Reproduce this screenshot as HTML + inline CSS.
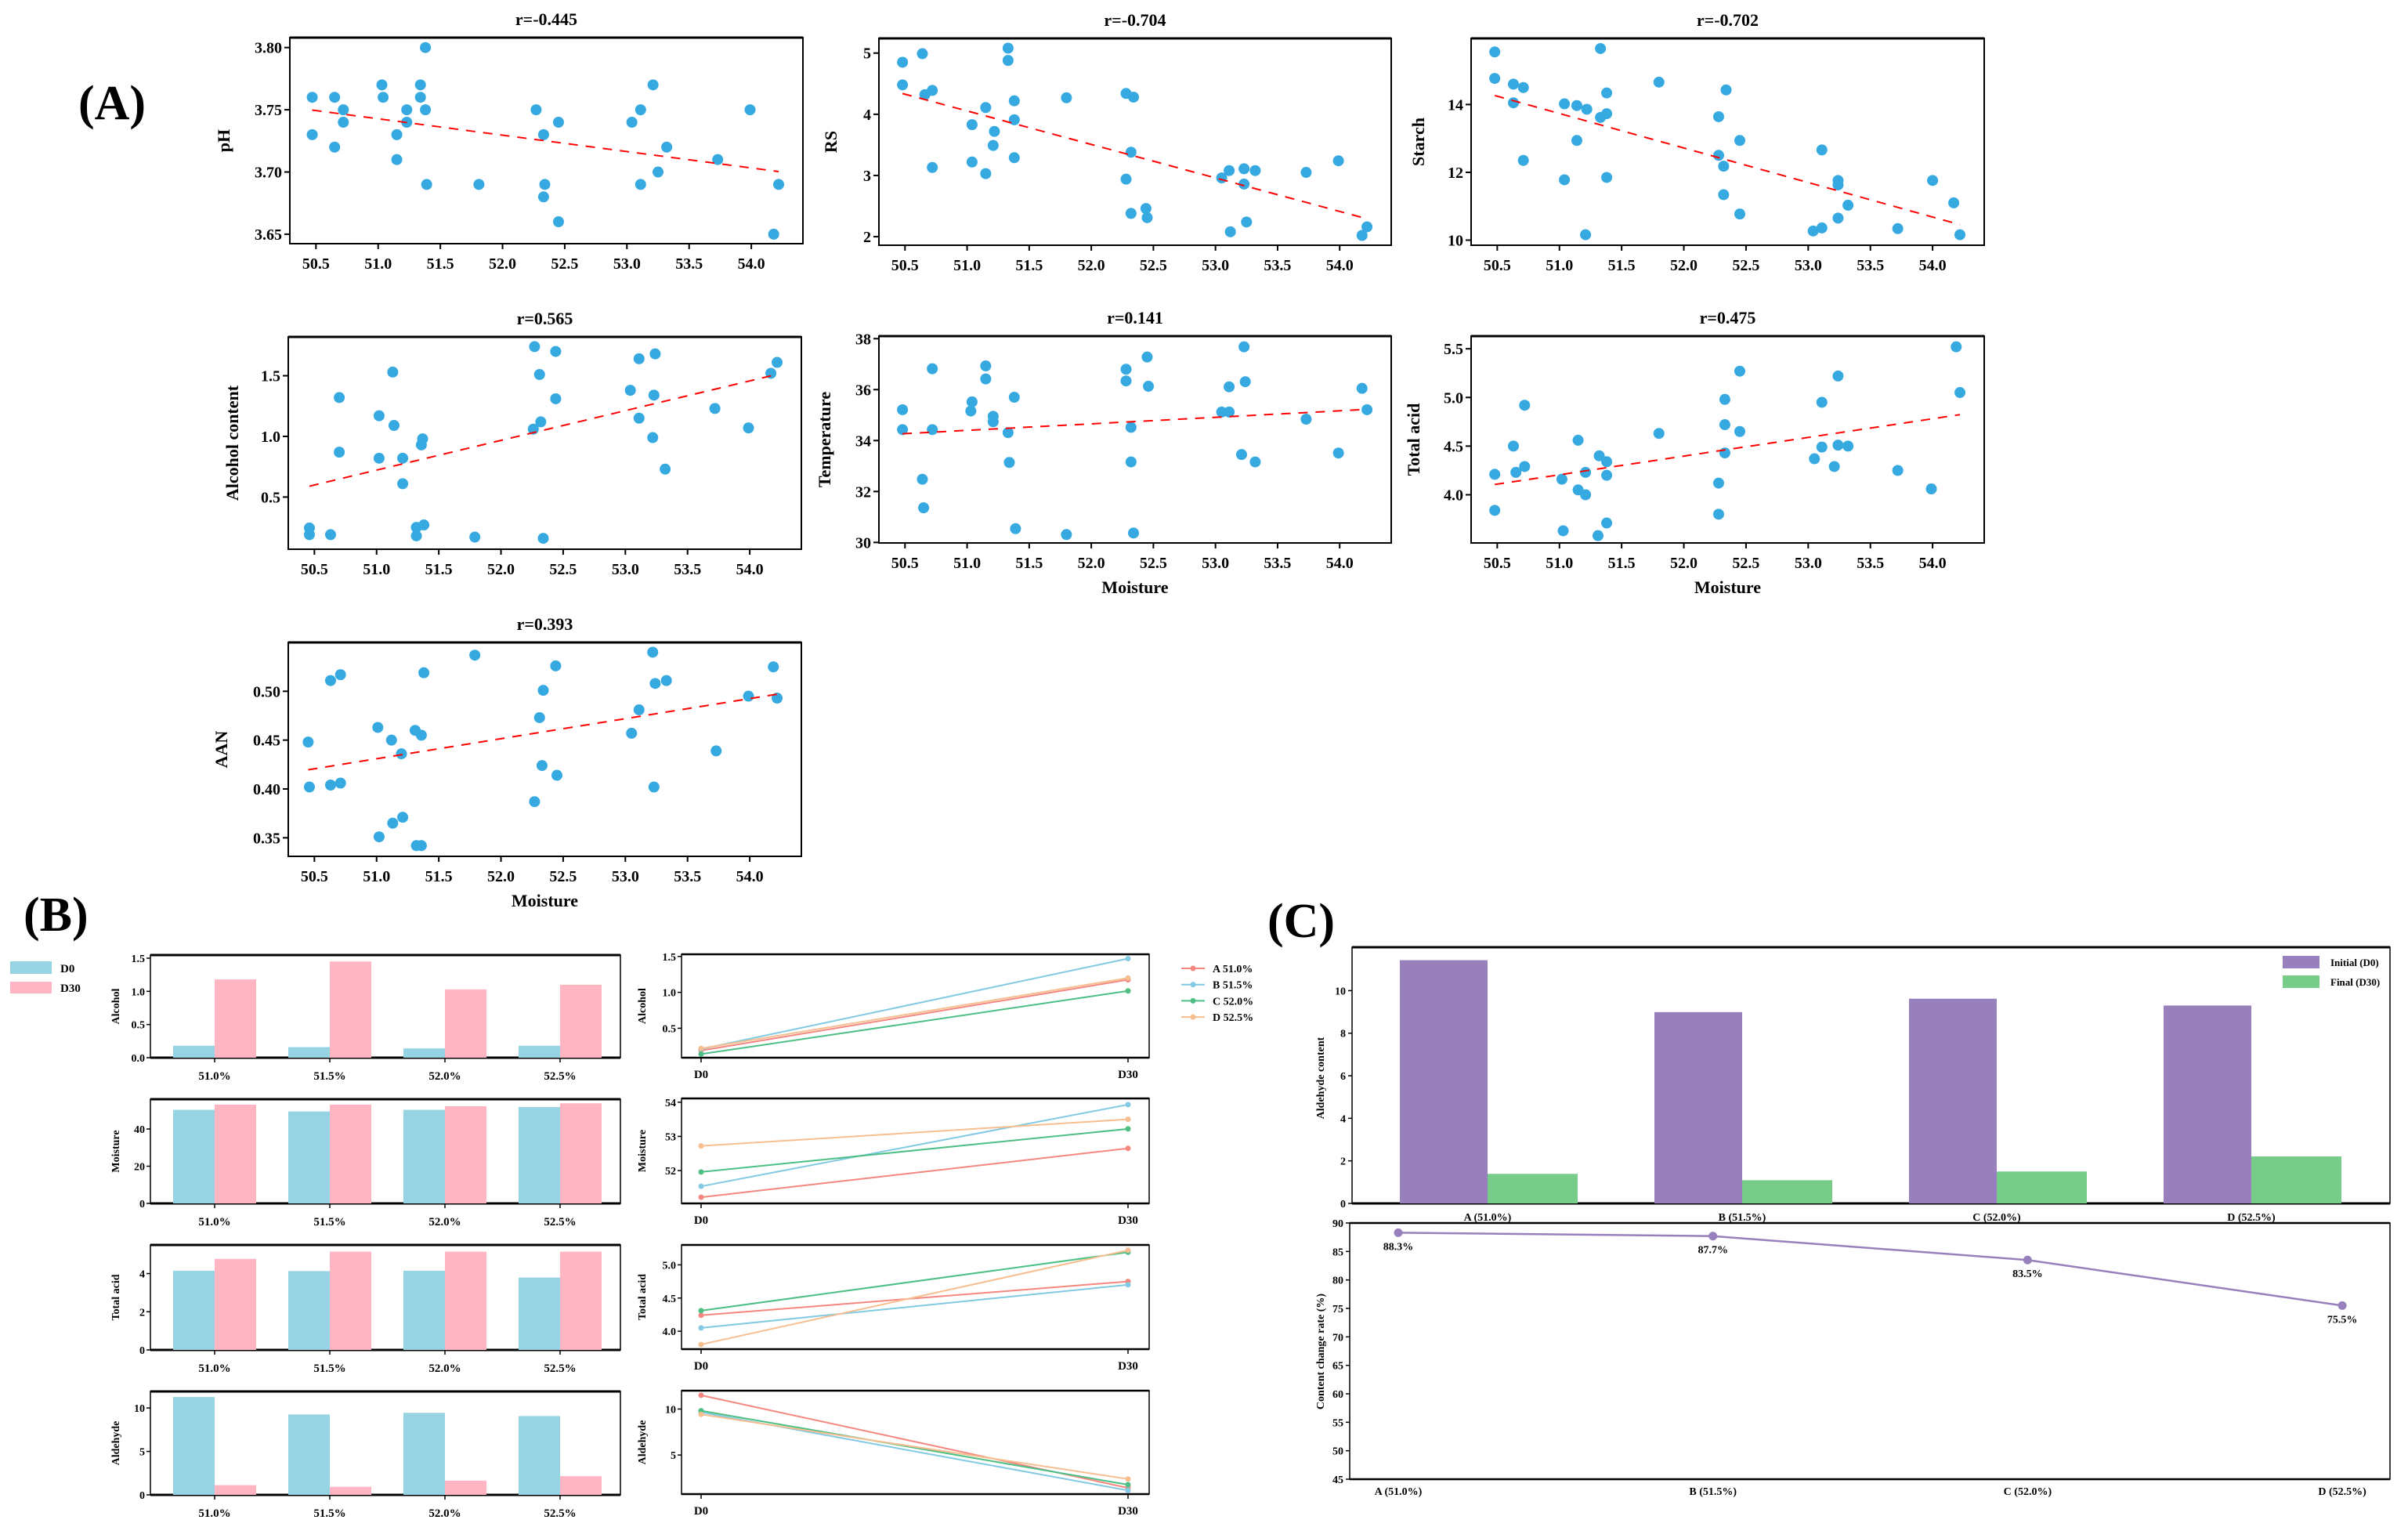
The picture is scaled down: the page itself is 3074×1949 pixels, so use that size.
<!DOCTYPE html>
<html><head><meta charset="utf-8">
<style>
html,body{margin:0;padding:0;background:#fff;}
svg{display:block;font-family:"Liberation Serif",serif;font-weight:bold;}
</style></head>
<body>
<svg id="fig" width="3074" height="1949" viewBox="0 0 3074 1949" xmlns="http://www.w3.org/2000/svg">
<rect x="0" y="0" width="3074" height="1949" fill="#fff"/>
<text x="100" y="152" font-size="62">(A)</text>
<text x="30" y="1188" font-size="62">(B)</text>
<text x="1618" y="1196" font-size="62">(C)</text>
</svg>
<script>
// ===== Panel A data (Moisture vs property) =====
const phX=[50.47,50.47,50.65,50.65,50.72,50.72,51.03,51.04,51.15,51.15,51.23,51.23,51.34,51.34,51.38,51.38,51.39,51.81,52.27,52.33,52.33,52.34,52.45,52.45,53.04,53.11,53.11,53.21,53.25,53.32,53.73,53.99,54.18,54.22];
const phY=[3.76,3.73,3.76,3.72,3.75,3.74,3.77,3.76,3.73,3.71,3.75,3.74,3.77,3.76,3.80,3.75,3.69,3.69,3.75,3.73,3.68,3.69,3.74,3.66,3.74,3.75,3.69,3.77,3.70,3.72,3.71,3.75,3.65,3.69];
const rsX=[50.48,50.48,50.64,50.66,50.72,50.72,51.04,51.04,51.15,51.15,51.21,51.22,51.33,51.33,51.38,51.38,51.38,51.80,52.28,52.34,52.32,52.28,52.32,52.44,52.45,53.05,53.11,53.12,53.23,53.23,53.25,53.32,53.73,53.99,54.18,54.22];
const rsY=[4.85,4.48,4.99,4.32,4.39,3.13,3.83,3.22,4.11,3.03,3.49,3.72,5.08,4.88,4.22,3.91,3.29,4.27,4.34,4.28,3.38,2.94,2.38,2.46,2.31,2.96,3.08,2.08,3.11,2.86,2.24,3.08,3.05,3.24,2.02,2.16];
const stX=[50.48,50.48,50.63,50.63,50.71,50.71,51.04,51.04,51.14,51.14,51.22,51.21,51.33,51.33,51.38,51.38,51.38,51.80,52.28,52.34,52.28,52.32,52.32,52.45,52.45,53.04,53.11,53.11,53.24,53.24,53.24,53.32,53.72,54.00,54.17,54.22];
const stY=[15.55,14.77,14.60,14.05,14.50,12.35,14.02,11.78,13.97,12.94,13.86,10.16,15.65,13.62,14.34,13.73,11.85,14.66,13.64,14.43,12.50,12.18,11.34,12.94,10.77,10.27,10.36,12.66,11.63,11.76,10.65,11.03,10.34,11.76,11.10,10.16];
const alX=[50.46,50.46,50.63,50.70,50.70,51.02,51.02,51.13,51.14,51.21,51.21,51.32,51.32,51.36,51.37,51.38,51.79,52.26,52.27,52.31,52.32,52.34,52.44,52.44,53.04,53.11,53.11,53.22,53.23,53.24,53.32,53.72,53.99,54.17,54.22];
const alY=[0.245,0.19,0.19,1.32,0.87,1.17,0.82,1.53,1.09,0.61,0.82,0.25,0.18,0.93,0.98,0.27,0.17,1.06,1.74,1.51,1.12,0.16,1.70,1.31,1.38,1.64,1.15,0.99,1.34,1.68,0.73,1.23,1.07,1.52,1.61];
const tpX=[50.48,50.48,50.64,50.65,50.72,50.72,51.03,51.04,51.15,51.15,51.21,51.21,51.33,51.34,51.38,51.39,51.80,52.28,52.28,52.32,52.32,52.34,52.45,52.46,53.05,53.11,53.11,53.21,53.23,53.24,53.32,53.73,53.99,54.18,54.22];
const tpY=[35.21,34.43,32.48,31.36,36.82,34.43,35.16,35.52,36.93,36.42,34.95,34.74,34.31,33.14,35.70,30.54,30.31,36.80,36.34,34.52,33.16,30.37,37.28,36.13,35.12,36.11,35.12,33.45,37.68,36.31,33.16,34.84,33.51,36.05,35.21];
const taX=[50.48,50.48,50.63,50.65,50.72,50.72,51.02,51.03,51.15,51.15,51.21,51.21,51.32,51.31,51.38,51.38,51.38,51.80,52.28,52.28,52.33,52.33,52.33,52.45,52.45,53.05,53.11,53.11,53.21,53.24,53.24,53.32,53.72,53.99,54.19,54.22];
const taY=[4.21,3.84,4.50,4.23,4.92,4.29,4.16,3.63,4.56,4.05,4.23,4.00,4.40,3.58,4.34,4.20,3.71,4.63,4.12,3.80,4.98,4.72,4.43,5.27,4.65,4.37,4.95,4.49,4.29,5.22,4.51,4.50,4.25,4.06,5.52,5.05];
const aaX=[50.45,50.46,50.63,50.63,50.71,50.71,51.01,51.02,51.12,51.13,51.20,51.21,51.31,51.32,51.36,51.36,51.38,51.79,52.27,52.31,52.33,52.34,52.44,52.45,53.05,53.11,53.22,53.23,53.24,53.33,53.73,53.99,54.19,54.22];
const aaY=[0.448,0.402,0.511,0.404,0.517,0.406,0.463,0.351,0.450,0.365,0.436,0.371,0.460,0.342,0.455,0.342,0.519,0.537,0.387,0.473,0.424,0.501,0.526,0.414,0.457,0.481,0.540,0.402,0.508,0.511,0.439,0.495,0.525,0.493];
const xTicksA=[50.5,51.0,51.5,52.0,52.5,53.0,53.5,54.0];

// ===== Panel B data =====
const groupsB=["51.0%","51.5%","52.0%","52.5%"];
const alcD0=[0.18,0.16,0.14,0.18], alcD30=[1.18,1.45,1.03,1.10];
const moiD0=[50.3,49.4,50.3,51.8], moiD30=[53.1,53.1,52.2,53.8];
const taD0=[4.15,4.13,4.15,3.79], taD30=[4.77,5.15,5.15,5.15];
const aldD0=[11.26,9.25,9.44,9.07], aldD30=[1.12,0.93,1.64,2.15];
const seriesB=["A 51.0%","B 51.5%","C 52.0%","D 52.5%"];
const lnAlc0=[0.19,0.21,0.14,0.22], lnAlc30=[1.175,1.47,1.02,1.20];
const lnMoi0=[51.22,51.54,51.96,52.72], lnMoi30=[52.65,53.93,53.22,53.50];
const lnTa0=[4.24,4.05,4.31,3.80], lnTa30=[4.75,4.70,5.19,5.22];
const lnAld0=[11.5,9.65,9.82,9.42], lnAld30=[1.42,1.15,1.77,2.39];

// ===== Panel C data =====
const groupsC=["A (51.0%)","B (51.5%)","C (52.0%)","D (52.5%)"];
const cInitial=[11.43,8.99,9.62,9.30];
const cFinal=[1.39,1.09,1.50,2.21];
const cRate=[88.3,87.7,83.5,75.5];
const cRateLabels=["88.3%","87.7%","83.5%","75.5%"];
const cRateTicks=[45,50,55,60,65,70,75,80,85,90];

const svg=document.getElementById('fig');
const NS='http://www.w3.org/2000/svg';
function mk(tag,attrs,parent){const e=document.createElementNS(NS,tag);for(const k in attrs)e.setAttribute(k,attrs[k]);(parent||svg).appendChild(e);return e;}
function tx(s,attrs,parent){const e=mk('text',attrs,parent);e.textContent=s;return e;}

function scatter(name,X,Y,fr,ydom,yticks,dec,title,ylabel,xlabel,ylx){
  const [l,t,r,b]=fr; const xd=[50.29,54.415];
  const sx=v=>l+(v-xd[0])/(xd[1]-xd[0])*(r-l);
  const sy=v=>b-(v-ydom[0])/(ydom[1]-ydom[0])*(b-t);
  const g=mk('g',{});
  
  
  const fm=mk('rect',{x:l,y:t,width:r-l,height:b-t,fill:'none',stroke:'#000','stroke-width':2},g);
  
  
  mk('line',{x1:l,y1:t,x2:r,y2:t,stroke:'#000','stroke-width':3},g);
  xTicksA.forEach(v=>{
    mk('line',{x1:sx(v),y1:b,x2:sx(v),y2:b+7,stroke:'#000','stroke-width':2},g);
    const e=tx(v.toFixed(1),{x:sx(v),y:b+32,'font-size':20,'text-anchor':'middle'},g);
    
    
  });
  yticks.forEach(v=>{
    mk('line',{x1:l-7,y1:sy(v),x2:l,y2:sy(v),stroke:'#000','stroke-width':2},g);
    const e=tx(v.toFixed(dec),{x:l-10,y:sy(v)+7,'font-size':20,'text-anchor':'end'},g);
    
    
  });
  X.forEach((x,i)=>{
    const c=mk('ellipse',{cx:sx(x),cy:sy(Y[i]),rx:7,ry:7,fill:'#36A9E1'},g);
    
    
  });
  // least-squares trend
  const n=X.length; let mx=0,my=0; X.forEach((x,i)=>{mx+=x;my+=Y[i];}); mx/=n; my/=n;
  let sxy=0,sxx=0; X.forEach((x,i)=>{sxy+=(x-mx)*(Y[i]-my);sxx+=(x-mx)*(x-mx);});
  const k=sxy/sxx, c0=my-k*mx; const x0=Math.min(...X), x1=Math.max(...X);
  const tl=mk('line',{x1:sx(x0),y1:sy(k*x0+c0),x2:sx(x1),y2:sy(k*x1+c0),stroke:'#FF0000','stroke-width':2,'stroke-dasharray':'12,10'},g);
  
  
  const tt=tx(title,{x:(l+r)/2,y:t-16,'font-size':22,'text-anchor':'middle'},g);
  
  
  const yl=tx(ylabel,{x:ylx,y:(t+b)/2,'font-size':22,'text-anchor':'middle',transform:`rotate(-90 ${ylx} ${(t+b)/2})`},g);
  
  
  if(xlabel){
    const xl=tx('Moisture',{x:(l+r)/2,y:b+64,'font-size':22,'text-anchor':'middle'},g);
    
    
  }
}
scatter('ph',phX,phY,[370,48,1025,311],[3.6424,3.808],[3.65,3.70,3.75,3.80],2,'r=-0.445','pH',false,293);
scatter('rs',rsX,rsY,[1122,49,1776,313],[1.86,5.24],[2,3,4,5],0,'r=-0.704','RS',false,1068);
scatter('starch',stX,stY,[1878,49,2533,313],[9.85,15.95],[10,12,14],0,'r=-0.702','Starch',false,1818);
scatter('alcohol',alX,alY,[368,430,1023,701],[0.07,1.82],[0.5,1.0,1.5],1,'r=0.565','Alcohol content',false,304);
scatter('temperature',tpX,tpY,[1122,429,1776,693],[29.98,38.1],[30,32,34,36,38],0,'r=0.141','Temperature',true,1060);
scatter('total-acid',taX,taY,[1878,429,2533,693],[3.505,5.63],[4.0,4.5,5.0,5.5],1,'r=0.475','Total acid',true,1812);
scatter('aan',aaX,aaY,[368,820,1023,1093],[0.331,0.550],[0.35,0.40,0.45,0.50],2,'r=0.393','AAN',true,290);

// ===== Panel B =====
function barB(name,d0,d30,fr,ymax,yticks,dec,ylabel){
  const [l,t,r,b]=fr;
  const sy=v=>b-v/ymax*(b-t);
  const g=mk('g',{});
  
  
  mk('rect',{x:l,y:t,width:r-l,height:b-t,fill:'none',stroke:'#000','stroke-width':1.5},g);
  mk('line',{x1:l,y1:t,x2:r,y2:t,stroke:'#000','stroke-width':3},g);
  mk('line',{x1:l,y1:b,x2:r,y2:b,stroke:'#000','stroke-width':3},g);
  groupsB.forEach((gname,i)=>{
    const cx=l+82+i*147;
    const b1=mk('rect',{x:cx-53,y:sy(d0[i]),width:53,height:b-sy(d0[i]),fill:'#96D4E3'},g);
    
    
    const b2=mk('rect',{x:cx,y:sy(d30[i]),width:53,height:b-sy(d30[i]),fill:'#FFB5C2'},g);
    
    
    mk('line',{x1:cx,y1:b,x2:cx,y2:b+6,stroke:'#000','stroke-width':1.5},g);
    const e=tx(gname,{x:cx,y:b+28,'font-size':15,'text-anchor':'middle'},g);
    
    
  });
  yticks.forEach(v=>{
    mk('line',{x1:l-5,y1:sy(v),x2:l,y2:sy(v),stroke:'#000','stroke-width':1.5},g);
    const e=tx(v.toFixed(dec),{x:l-7,y:sy(v)+5,'font-size':14,'text-anchor':'end'},g);
    
    
  });
  const yl=tx(ylabel,{x:152,y:(t+b)/2,'font-size':14,'text-anchor':'middle',transform:`rotate(-90 152 ${(t+b)/2})`},g);
  
  
}
barB('alcohol',alcD0,alcD30,[192,1219,792,1350],1.547,[0,0.5,1.0,1.5],1,'Alcohol');
barB('moisture',moiD0,moiD30,[192,1403,792,1536],56,[0,20,40],0,'Moisture');
barB('total-acid',taD0,taD30,[192,1589,792,1723],5.5,[0,2,4],0,'Total acid');
barB('aldehyde',aldD0,aldD30,[192,1776,792,1908],11.9,[0,5,10],0,'Aldehyde');

const lineColors=['#F4877F','#82C9E2','#4DBF84','#F7BE90'];
function lineB(name,v0,v30,fr,ydom,yticks,dec,ylabel){
  const [l,t,r,b]=fr;
  const sy=v=>b-(v-ydom[0])/(ydom[1]-ydom[0])*(b-t);
  const xs=[895,1440];
  const g=mk('g',{});
  
  
  mk('rect',{x:l,y:t,width:r-l,height:b-t,fill:'none',stroke:'#000','stroke-width':1.5},g);
  mk('line',{x1:l,y1:t,x2:r,y2:t,stroke:'#000','stroke-width':2.5},g);
  mk('line',{x1:l,y1:b,x2:r,y2:b,stroke:'#000','stroke-width':2.5},g);
  ['D0','D30'].forEach((s,i)=>{
    mk('line',{x1:xs[i],y1:b,x2:xs[i],y2:b+6,stroke:'#000','stroke-width':1.5},g);
    const e=tx(s,{x:xs[i],y:b+26,'font-size':15,'text-anchor':'middle'},g);
    
    
  });
  yticks.forEach(v=>{
    mk('line',{x1:l-5,y1:sy(v),x2:l,y2:sy(v),stroke:'#000','stroke-width':1.5},g);
    const e=tx(v.toFixed(dec),{x:l-7,y:sy(v)+5,'font-size':14,'text-anchor':'end'},g);
    
    
  });
  seriesB.forEach((s,i)=>{
    const ln=mk('line',{x1:xs[0],y1:sy(v0[i]),x2:xs[1],y2:sy(v30[i]),stroke:lineColors[i],'stroke-width':2},g);
    
    
    [v0[i],v30[i]].forEach((v,j)=>{
      const c=mk('circle',{cx:xs[j],cy:sy(v),r:3.5,fill:lineColors[i]},g);
      
      
    });
  });
  const yl=tx(ylabel,{x:824,y:(t+b)/2,'font-size':14,'text-anchor':'middle',transform:`rotate(-90 824 ${(t+b)/2})`},g);
  
  
}
lineB('alcohol',lnAlc0,lnAlc30,[870,1218,1467,1350],[0.09,1.53],[0.5,1.0,1.5],1,'Alcohol');
lineB('moisture',lnMoi0,lnMoi30,[870,1402,1467,1536],[51.04,54.11],[52,53,54],0,'Moisture');
lineB('total-acid',lnTa0,lnTa30,[870,1589,1467,1722],[3.73,5.30],[4.0,4.5,5.0],1,'Total acid');
lineB('aldehyde',lnAld0,lnAld30,[870,1775,1467,1907],[0.75,12.0],[5,10],0,'Aldehyde');

// bar legend
const lg1=mk('rect',{x:13,y:1227,width:53,height:16,fill:'#96D4E3'});


const lt1=tx('D0',{x:77,y:1241,'font-size':15});


const lg2=mk('rect',{x:13,y:1253,width:53,height:15,fill:'#FFB5C2'});


const lt2=tx('D30',{x:77,y:1266,'font-size':15});


// line legend
seriesB.forEach((s,i)=>{
  const y=1236+i*20.7;
  const ll=mk('line',{x1:1508,y1:y,x2:1538,y2:y,stroke:lineColors[i],'stroke-width':2});
  
  
  mk('circle',{cx:1523,cy:y,r:3.5,fill:lineColors[i]});
  const e=tx(s,{x:1548,y:y+5,'font-size':14});
  
  
});

// ===== Panel C =====
(function(){
  const l=1726,t=1209,r=3051,b=1536,ymax=12.04;
  const sy=v=>b-v/ymax*(b-t);
  const g=mk('g',{});
  
  
  mk('rect',{x:l,y:t,width:r-l,height:b-t,fill:'none',stroke:'#000','stroke-width':1.5},g);
  mk('line',{x1:l,y1:t,x2:r,y2:t,stroke:'#000','stroke-width':3},g);
  mk('line',{x1:l,y1:b,x2:r,y2:b,stroke:'#000','stroke-width':3},g);
  groupsC.forEach((s,i)=>{
    const cx=1899+i*325;
    const b1=mk('rect',{x:cx-112,y:sy(cInitial[i]),width:112,height:b-sy(cInitial[i]),fill:'#9880BC'},g);
    
    
    const b2=mk('rect',{x:cx,y:sy(cFinal[i]),width:115,height:b-sy(cFinal[i]),fill:'#78CC8A'},g);
    
    
    const e=tx(s,{x:cx,y:b+22,'font-size':14,'text-anchor':'middle'},g);
    
    
  });
  [0,2,4,6,8,10].forEach(v=>{
    mk('line',{x1:l-5,y1:sy(v),x2:l,y2:sy(v),stroke:'#000','stroke-width':1.5},g);
    const e=tx(String(v),{x:l-8,y:sy(v)+5,'font-size':14,'text-anchor':'end'},g);
    
    
  });
  const yl=tx('Aldehyde content',{x:1690,y:1376,'font-size':14,'text-anchor':'middle',transform:'rotate(-90 1690 1376)'},g);
  
  
  const s1=mk('rect',{x:2914,y:1220,width:47,height:16,fill:'#9880BC'},g);
  
  
  const t1=tx('Initial (D0)',{x:2975,y:1233,'font-size':13},g);
  
  
  const s2=mk('rect',{x:2914,y:1245,width:47,height:16,fill:'#78CC8A'},g);
  
  
  const t2=tx('Final (D30)',{x:2975,y:1258,'font-size':13},g);
  
  
})();
(function(){
  const l=1723,t=1561,r=3051,b=1888,y0=45,y1=90;
  const sy=v=>b-(v-y0)/(y1-y0)*(b-t);
  const sx=i=>1785+i*401.7;
  const g=mk('g',{});
  
  
  mk('rect',{x:l,y:t,width:r-l,height:b-t,fill:'none',stroke:'#000','stroke-width':1.5},g);
  mk('line',{x1:l,y1:t,x2:r,y2:t,stroke:'#000','stroke-width':2.5},g);
  mk('line',{x1:l,y1:b,x2:r,y2:b,stroke:'#000','stroke-width':2.5},g);
  cRateTicks.forEach(v=>{
    mk('line',{x1:l-5,y1:sy(v),x2:l,y2:sy(v),stroke:'#000','stroke-width':1.5},g);
    const e=tx(String(v),{x:l-8,y:sy(v)+5,'font-size':14,'text-anchor':'end'},g);
    
    
  });
  const pts=cRate.map((v,i)=>sx(i)+','+sy(v)).join(' ');
  const pl=mk('polyline',{points:pts,fill:'none',stroke:'#9880BC','stroke-width':2.5},g);
  
  
  cRate.forEach((v,i)=>{
    const c=mk('circle',{cx:sx(i),cy:sy(v),r:5.5,fill:'#9880BC'},g);
    
    
    const e=tx(cRateLabels[i],{x:sx(i),y:sy(v)+22,'font-size':14,'text-anchor':'middle'},g);
    
    
    const xl=tx(groupsC[i],{x:sx(i),y:b+20,'font-size':14,'text-anchor':'middle'},g);
    
    
  });
  const yl=tx('Content change rate (%)',{x:1690,y:1725,'font-size':14,'text-anchor':'middle',transform:'rotate(-90 1690 1725)'},g);
  
  
})();
</script>
</body></html>
